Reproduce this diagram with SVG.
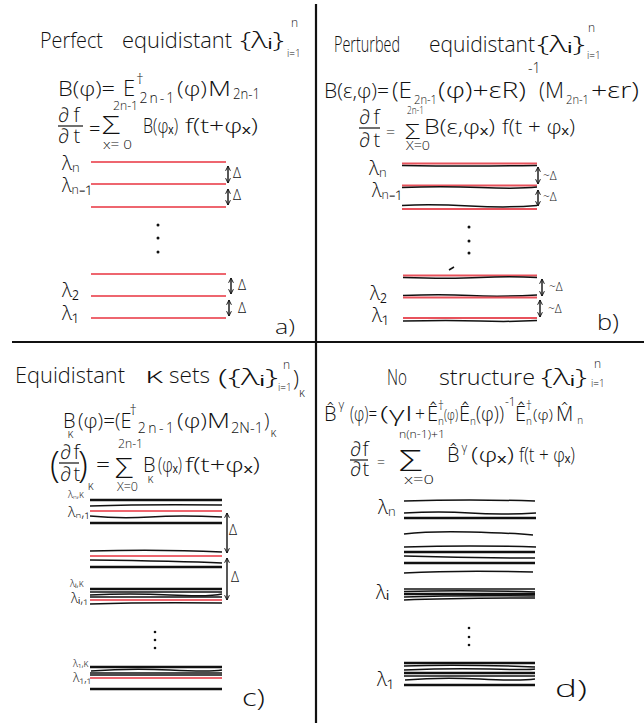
<svg xmlns="http://www.w3.org/2000/svg" width="644" height="723" viewBox="0 0 644 723">
<style>
text{font-family:"Open Sans","DejaVu Sans",sans-serif;font-weight:300;fill:#111}
.ti{font-size:22px}
.eq{font-size:20px}
.s14{font-size:14px}
.sm{font-size:12px}
.xs{font-size:10px}
.rl{stroke:#e8333f;stroke-width:1.4;fill:none}
.rb{stroke:#e8525c;stroke-width:1.8;fill:none}
.bl{stroke:#111;stroke-width:1.5;fill:none}
.bt{stroke:#111;stroke-width:2.3;fill:none}
.ar{stroke:#111;stroke-width:1.4;fill:none;marker-start:url(#ah);marker-end:url(#ah)}
.dv{stroke:#111;stroke-width:2.2}
.fb{stroke:#111;stroke-width:1.2}
</style>
<defs>
<marker id="ah" viewBox="0 0 10 10" refX="9" refY="5" markerWidth="6" markerHeight="6" markerUnits="userSpaceOnUse" orient="auto-start-reverse"><path d="M1,1 L9,5 L1,9" fill="none" stroke="#111" stroke-width="1.6"/></marker>
</defs>
<rect width="644" height="723" fill="#fff"/>
<g id="dividers">
<line class="dv" x1="316" y1="4" x2="316" y2="723"/>
<line class="dv" x1="12" y1="342" x2="644" y2="342"/>
</g>

<g id="panel-a">
<text class="ti" x="40" y="48" textLength="63" lengthAdjust="spacingAndGlyphs">Perfect</text>
<text class="ti" x="122" y="48" textLength="110" lengthAdjust="spacingAndGlyphs">equidistant</text>
<text class="ti" x="240" y="48" textLength="44" lengthAdjust="spacingAndGlyphs">{λᵢ}</text>
<text class="sm" x="291" y="27">n</text>
<text class="xs" x="287" y="57">i=1</text>

<text class="eq" x="58" y="96" textLength="57" lengthAdjust="spacingAndGlyphs">B(φ)=</text>
<text x="123" y="96"><tspan class="ti">E</tspan><tspan style="font-size:15px" dx="1" dy="-12">†</tspan><tspan class="s14" dx="-4" dy="19" letter-spacing="2">2n-1</tspan></text>
<text class="eq" x="177" y="96" textLength="30" lengthAdjust="spacingAndGlyphs">(φ)</text>
<text class="eq" x="208" y="96" textLength="23" lengthAdjust="spacingAndGlyphs">M</text>
<text class="s14" x="233" y="99" textLength="27" lengthAdjust="spacingAndGlyphs">2n-1</text>

<text class="eq" x="58" y="122" letter-spacing="4">∂f<tspan x="58" dy="21">∂t</tspan></text>
<line class="fb" x1="58" y1="126" x2="83" y2="126"/>
<text class="eq" x="89" y="136">=</text>
<text style="font-size:26px" x="102" y="134" textLength="18" lengthAdjust="spacingAndGlyphs">Σ</text>
<text class="sm" x="113" y="110" textLength="25" lengthAdjust="spacingAndGlyphs">2n-1</text>
<text class="sm" x="103" y="149" textLength="29" lengthAdjust="spacingAndGlyphs">x= 0</text>
<text class="eq" x="143" y="133" textLength="35" lengthAdjust="spacingAndGlyphs">B(φₓ)</text>
<text class="eq" x="185" y="133" textLength="73" lengthAdjust="spacingAndGlyphs">f(t+φₓ)</text>

<line class="rl" x1="91" y1="162" x2="226" y2="162"/>
<line class="rl" x1="91" y1="184" x2="226" y2="184"/>
<line class="rl" x1="91" y1="207" x2="226" y2="207"/>
<line class="rl" x1="91" y1="274" x2="226" y2="274"/>
<line class="rl" x1="91" y1="296" x2="226" y2="296"/>
<line class="rl" x1="91" y1="318" x2="226" y2="318"/>

<line class="ar" x1="228" y1="166" x2="228" y2="183"/>
<line class="ar" x1="228" y1="189" x2="228" y2="205"/>
<line class="ar" x1="231" y1="278" x2="231" y2="294"/>
<line class="ar" x1="229" y1="300" x2="229" y2="316"/>
<text class="s14" x="233" y="178">Δ</text>
<text class="s14" x="233" y="200">Δ</text>
<text class="s14" x="238" y="290">Δ</text>
<text class="s14" x="238" y="313">Δ</text>

<circle cx="158" cy="225" r="1.5" fill="#111"/>
<circle cx="158" cy="238" r="1.5" fill="#111"/>
<circle cx="158" cy="252" r="1.5" fill="#111"/>

<text class="eq" x="62" y="170">λₙ</text>
<text class="eq" x="62" y="192" textLength="30" lengthAdjust="spacingAndGlyphs">λₙ₋₁</text>
<text class="eq" x="62" y="297">λ₂</text>
<text class="eq" x="62" y="320">λ₁</text>
<text class="eq" x="275" y="334" textLength="20" lengthAdjust="spacingAndGlyphs">a)</text>
</g>

<g id="panel-b">
<text class="ti" x="334" y="52" textLength="66" lengthAdjust="spacingAndGlyphs">Perturbed</text>
<text class="ti" x="429" y="52" textLength="106" lengthAdjust="spacingAndGlyphs">equidistant</text>
<text class="ti" x="537" y="52" textLength="48" lengthAdjust="spacingAndGlyphs">{λᵢ}</text>
<text class="sm" x="588" y="32">n</text>
<text class="xs" x="587" y="59">i=1</text>

<text class="eq" x="324" y="98" textLength="65" lengthAdjust="spacingAndGlyphs">B(ε,φ)=</text>
<text class="ti" x="392" y="98" textLength="20" lengthAdjust="spacingAndGlyphs">(E</text>
<text class="sm" x="414" y="104" textLength="23" lengthAdjust="spacingAndGlyphs">2n-1</text>
<text class="ti" x="438" y="98" textLength="88" lengthAdjust="spacingAndGlyphs">(φ)+εR)</text>
<text class="s14" x="528" y="73">-1</text>
<text class="ti" x="539" y="98" textLength="25" lengthAdjust="spacingAndGlyphs">(M</text>
<text class="sm" x="566" y="104" textLength="23" lengthAdjust="spacingAndGlyphs">2n-1</text>
<text class="ti" x="591" y="98" textLength="48" lengthAdjust="spacingAndGlyphs">+εr)</text>

<text class="eq" x="359" y="124" letter-spacing="3">∂f<tspan x="359" dy="23">∂t</tspan></text>
<line class="fb" x1="359" y1="128" x2="380" y2="128"/>
<text style="font-size:16px" x="386" y="138">=</text>
<text style="font-size:20px" x="405" y="139" textLength="15" lengthAdjust="spacingAndGlyphs">Σ</text>
<text class="xs" x="407" y="114" textLength="17" lengthAdjust="spacingAndGlyphs">2n-1</text>
<text class="sm" x="406" y="150" textLength="24" lengthAdjust="spacingAndGlyphs">X=0</text>
<text class="eq" x="424" y="134" textLength="71" lengthAdjust="spacingAndGlyphs">B(ε,φₓ)</text>
<text class="eq" x="502" y="134" textLength="73" lengthAdjust="spacingAndGlyphs">f(t + φₓ)</text>

<line class="rb" x1="402" y1="163.5" x2="537" y2="163.5"/>
<path class="bl" d="M402,165.5 Q470,166.5 537,165.5"/>
<line class="rb" x1="402" y1="185.5" x2="537" y2="185.5"/>
<path class="bl" d="M402,187.5 Q440,186 480,187.5 T537,187"/>
<path class="bl" d="M402,205.5 Q430,204 470,206 T537,205.5"/>
<line class="rb" x1="402" y1="209" x2="537" y2="209"/>
<line class="rb" x1="403" y1="275.5" x2="537" y2="275.5"/>
<path class="bl" d="M403,277.5 Q450,279 480,277.5 T537,277.5"/>
<path class="bl" d="M403,295.5 Q440,294 470,295.5 T537,295"/>
<line class="rb" x1="403" y1="297.5" x2="537" y2="297.5"/>
<line class="rb" x1="403" y1="318" x2="537" y2="318"/>
<path class="bl" d="M403,321 Q450,320 480,321 T537,320.5"/>

<line class="ar" x1="538" y1="167" x2="538" y2="184"/>
<line class="ar" x1="538" y1="190" x2="538" y2="206"/>
<line class="ar" x1="542" y1="279" x2="542" y2="296"/>
<line class="ar" x1="540" y1="300" x2="540" y2="317"/>
<text class="sm" x="543" y="180">~Δ</text>
<text class="sm" x="543" y="201">~Δ</text>
<text class="sm" x="549" y="291">~Δ</text>
<text class="sm" x="548" y="313">~Δ</text>

<circle cx="469" cy="227" r="1.5" fill="#111"/>
<circle cx="469" cy="241" r="1.5" fill="#111"/>
<circle cx="469" cy="253" r="1.5" fill="#111"/>
<line class="bl" x1="449" y1="270" x2="454" y2="267"/>

<text class="eq" x="369" y="175">λₙ</text>
<text class="eq" x="372" y="197" textLength="30" lengthAdjust="spacingAndGlyphs">λₙ₋₁</text>
<text class="eq" x="370" y="300">λ₂</text>
<text class="eq" x="372" y="322">λ₁</text>
<text class="ti" x="597" y="330" textLength="22" lengthAdjust="spacingAndGlyphs">b)</text>
</g>

<g id="panel-c">
<text class="ti" x="15" y="383" textLength="110" lengthAdjust="spacingAndGlyphs">Equidistant</text>
<text class="ti" x="145" y="383" textLength="18" lengthAdjust="spacingAndGlyphs">κ</text>
<text class="ti" x="169" y="383" textLength="41" lengthAdjust="spacingAndGlyphs">sets</text>
<text class="ti" x="218" y="385" textLength="60" lengthAdjust="spacingAndGlyphs">({λᵢ}</text>
<text class="sm" x="283" y="369">n</text>
<text class="xs" x="278" y="391">i=1</text>
<text class="ti" x="293" y="386">)<tspan class="sm" dx="0" dy="11">κ</tspan></text>

<text x="63" y="428"><tspan class="eq">B</tspan><tspan class="sm" dx="-8" dy="10">κ</tspan></text>
<text class="eq" x="78" y="428" textLength="37" lengthAdjust="spacingAndGlyphs">(φ)=</text>
<text class="eq" x="115" y="428">(E<tspan style="font-size:15px" dx="-2" dy="-13">†</tspan><tspan class="s14" dx="1" dy="18" letter-spacing="2.5">2n-1</tspan></text>
<text class="eq" x="177" y="428" textLength="30" lengthAdjust="spacingAndGlyphs">(φ)</text>
<text class="eq" x="207" y="428" textLength="23" lengthAdjust="spacingAndGlyphs">M</text>
<text class="s14" x="231" y="433" textLength="32" lengthAdjust="spacingAndGlyphs">2N-1</text>
<text class="eq" x="264" y="428">)<tspan class="sm" dx="1" dy="9">κ</tspan></text>

<text style="font-size:36px" x="50" y="477">(</text>
<text class="eq" x="60" y="459" letter-spacing="2">∂f<tspan x="60" dy="22">∂t</tspan></text>
<line class="fb" x1="59" y1="463" x2="79" y2="463"/>
<text style="font-size:36px" x="78" y="477">)<tspan class="sm" dx="0" dy="13">κ</tspan></text>
<text class="eq" x="96" y="472" textLength="14" lengthAdjust="spacingAndGlyphs">=</text>
<text style="font-size:28px" x="115" y="478" textLength="18" lengthAdjust="spacingAndGlyphs">Σ</text>
<text class="sm" x="118" y="448" textLength="25" lengthAdjust="spacingAndGlyphs">2n-1</text>
<text class="sm" x="117" y="491" textLength="21" lengthAdjust="spacingAndGlyphs">X=0</text>
<text x="143" y="472"><tspan class="eq">B</tspan><tspan class="sm" dx="-8" dy="11">κ</tspan></text>
<text class="eq" x="158" y="472" textLength="24" lengthAdjust="spacingAndGlyphs">(φₓ)</text>
<text class="eq" x="185" y="472" textLength="75" lengthAdjust="spacingAndGlyphs">f(t+φₓ)</text>

<line class="bt" x1="90" y1="500" x2="222" y2="500"/>
<path class="bl" d="M90,506 Q150,504 222,505"/>
<line class="rl" x1="90" y1="511" x2="222" y2="511" stroke-width="1.6"/>
<path class="bl" d="M90,516 Q120,519 150,517 T222,517"/>
<line class="bt" x1="90" y1="523" x2="222" y2="523"/>

<path class="bl" d="M90,551 Q160,549 222,552"/>
<line class="rl" x1="90" y1="556" x2="222" y2="556" stroke-width="1.6"/>
<path class="bl" d="M90,560 Q180,561 222,563"/>
<line class="bt" x1="90" y1="567" x2="222" y2="567"/>

<line class="bt" x1="90" y1="589" x2="222" y2="589"/>
<line class="bl" x1="90" y1="592" x2="222" y2="592"/>
<path class="bl" d="M90,595 Q130,593 170,595 T222,594"/>
<line class="bl" x1="90" y1="597" x2="222" y2="597"/>
<line class="rl" x1="90" y1="600" x2="222" y2="600" stroke-width="1.6"/>
<path class="bl" d="M90,604 Q150,602 222,603"/>

<line class="bt" x1="90" y1="667" x2="222" y2="667"/>
<path class="bl" d="M91,671 Q130,668 170,670 T222,670"/>
<line class="bl" x1="90" y1="673" x2="222" y2="673"/>
<line class="bl" x1="90" y1="675" x2="222" y2="675"/>
<line class="rl" x1="90" y1="678" x2="222" y2="678" stroke-width="1.6"/>
<line class="bt" x1="90" y1="689" x2="222" y2="689"/>

<line class="ar" x1="227" y1="513" x2="227" y2="553"/>
<line class="ar" x1="227" y1="558" x2="227" y2="600"/>
<text class="s14" x="229" y="535">Δ</text>
<text class="s14" x="231" y="582">Δ</text>

<circle cx="155" cy="632" r="1.3" fill="#111"/>
<circle cx="155" cy="640" r="1.3" fill="#111"/>
<circle cx="155" cy="648" r="1.3" fill="#111"/>

<text style="font-size:10px" x="68" y="498">λₙ,κ</text>
<text style="font-size:15px" x="68" y="517">λₙ,₁</text>
<text style="font-size:10px" x="70" y="587">λᵢ,κ</text>
<text style="font-size:14px" x="71" y="603">λᵢ,₁</text>
<text style="font-size:10px" x="73" y="667">λ₁,κ</text>
<text style="font-size:13px" x="73" y="682">λ₁,₁</text>
<text style="font-size:24px" x="242" y="706" textLength="23" lengthAdjust="spacingAndGlyphs">c)</text>
</g>

<g id="panel-d">
<text class="ti" x="387" y="385" textLength="20" lengthAdjust="spacingAndGlyphs">No</text>
<text class="ti" x="439" y="385" textLength="96" lengthAdjust="spacingAndGlyphs">structure</text>
<text class="ti" x="541" y="385" textLength="46" lengthAdjust="spacingAndGlyphs">{λᵢ}</text>
<text class="sm" x="594" y="368">n</text>
<text class="xs" x="591" y="387">i=1</text>

<text x="324" y="421"><tspan class="eq">B̂</tspan><tspan class="sm" dx="2" dy="-12">γ</tspan></text>
<text class="eq" x="350" y="421" textLength="27" lengthAdjust="spacingAndGlyphs">(φ)=</text>
<text class="eq" x="380" y="421" textLength="33" lengthAdjust="spacingAndGlyphs">(γI</text>
<text class="eq" x="415" y="421" textLength="10" lengthAdjust="spacingAndGlyphs">+</text>
<text x="427" y="421"><tspan class="eq">Ê</tspan><tspan class="sm" dx="0" dy="-11">†</tspan><tspan class="xs" dx="-6" dy="15">n</tspan></text>
<text class="s14" x="444" y="420" textLength="14" lengthAdjust="spacingAndGlyphs">(φ)</text>
<text x="459" y="421"><tspan class="eq">Ê</tspan><tspan class="xs" dx="0" dy="4">n</tspan></text>
<text class="eq" x="476" y="421" textLength="28" lengthAdjust="spacingAndGlyphs">(φ))</text>
<text class="sm" x="505" y="406">-1</text>
<text x="515" y="421"><tspan class="eq">Ê</tspan><tspan class="sm" dx="0" dy="-11">†</tspan><tspan class="xs" dx="-6" dy="15">n</tspan></text>
<text class="s14" x="533" y="420" textLength="20" lengthAdjust="spacingAndGlyphs">(φ)</text>
<text x="556" y="421"><tspan class="eq" letter-spacing="3">M̂</tspan><tspan class="xs" dx="1" dy="3">n</tspan></text>

<text class="eq" x="350" y="456" letter-spacing="1">∂f<tspan x="350" dy="20">∂t</tspan></text>
<line class="fb" x1="350" y1="460" x2="368" y2="460"/>
<text style="font-size:14px" x="377" y="467">=</text>
<text style="font-size:30px" x="399" y="471" textLength="23" lengthAdjust="spacingAndGlyphs">Σ</text>
<text class="xs" x="399" y="438" textLength="46" lengthAdjust="spacingAndGlyphs">n(n-1)+1</text>
<text class="sm" x="404" y="484" textLength="30" lengthAdjust="spacingAndGlyphs">x=0</text>
<text x="447" y="462"><tspan class="eq">B̂</tspan><tspan class="sm" dx="2" dy="-10">γ</tspan></text>
<text class="eq" x="471" y="462" textLength="43" lengthAdjust="spacingAndGlyphs">(φₓ)</text>
<text class="eq" x="519" y="462" textLength="56" lengthAdjust="spacingAndGlyphs">f(t + φₓ)</text>

<path class="bl" d="M404,501 Q470,499 535,501"/>
<path class="bl" d="M404,513 Q440,511 470,513 T536,513"/>
<line class="bt" x1="404" y1="518" x2="536" y2="518"/>
<path class="bl" d="M404,534 Q430,531 470,532 T533,535"/>
<path class="bl" d="M404,547 Q470,545 536,547"/>
<line class="bt" x1="404" y1="552" x2="535" y2="552"/>
<path class="bl" d="M404,556 Q470,558 535,558"/>
<line class="bt" x1="404" y1="563" x2="535" y2="563"/>
<path class="bl" d="M404,573 Q460,570 533,572"/>

<line class="bl" x1="404" y1="589" x2="535" y2="589"/>
<path class="bl" d="M404,591.5 Q470,590 535,592"/>
<line class="bt" x1="404" y1="594" x2="535" y2="594"/>
<path class="bl" d="M404,597 Q460,595 535,596"/>
<path class="bl" d="M404,600 Q450,598 535,598"/>

<line class="bt" x1="404" y1="663" x2="535" y2="663"/>
<path class="bl" d="M404,666 Q460,664 535,667"/>
<path class="bl" d="M404,670 Q450,668 490,669 T535,669"/>
<line class="bt" x1="404" y1="673" x2="535" y2="673"/>
<line class="bl" x1="404" y1="676" x2="535" y2="676"/>
<path class="bl" d="M405,680 Q440,677 480,679 T535,679"/>
<line class="bt" x1="404" y1="685" x2="535" y2="685"/>

<circle cx="469" cy="628" r="1.3" fill="#111"/>
<circle cx="469" cy="637" r="1.3" fill="#111"/>
<circle cx="469" cy="645" r="1.3" fill="#111"/>

<text class="eq" x="378" y="514">λₙ</text>
<text class="eq" x="376" y="599">λᵢ</text>
<text class="eq" x="377" y="686">λ₁</text>
<text style="font-size:24px" x="555" y="697" textLength="32" lengthAdjust="spacingAndGlyphs">d)</text>
</g>
</svg>
